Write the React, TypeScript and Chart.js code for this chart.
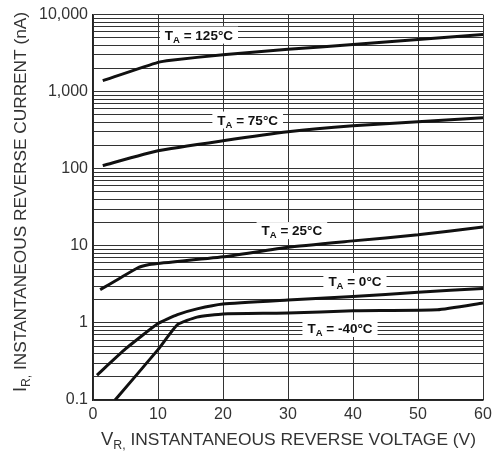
import { useEffect, useRef } from "react";
import { Chart, registerables } from "chart.js";
Chart.register(...registerables);

// Axis ticks
const voltageTicks = [0, 10, 20, 30, 40, 50, 60];
const currentMajorTicks = [0.1, 1, 10, 100, 1000, 10000];
const currentTickLabels = ["0.1", "1", "10", "100", "1,000", "10,000"];
const gridMultipliers = [1, 2, 3, 4, 5, 6, 7, 8, 9];

// Series (V_R in volts, I_R in nA)
const v125 = [1.5, 10, 12, 20, 30, 40, 50, 60];
const i125 = [1390, 2400, 2560, 3020, 3540, 4100, 4770, 5500];

const v75 = [1.5, 10, 20, 30, 40, 50, 60];
const i75 = [110, 171, 231, 302, 361, 407, 459];

const v25 = [1.1, 4, 6.9, 8.5, 10, 20, 30, 40, 50, 60];
const i25 = [2.7, 3.75, 5.2, 5.7, 5.9, 7.2, 9.6, 11.6, 13.9, 17.6];

const v0 = [0.6, 5, 10, 13, 16, 20, 30, 40, 50, 60];
const i0 = [0.21, 0.46, 0.98, 1.28, 1.52, 1.76, 1.98, 2.2, 2.5, 2.8];

const vm40 = [3.4, 10, 13, 16, 20, 30, 40, 53, 60];
const im40 = [0.1, 0.45, 0.95, 1.19, 1.31, 1.34, 1.44, 1.48, 1.81];

// Curve labels (data coordinates)
const labelTemps = ["125°C", "75°C", "25°C", "0°C", "-40°C"];
const labelV = [16.3, 23.8, 30.6, 40.3, 38];
const labelI = [5500, 435, 16, 3.5, 0.86];

const FONT = "'Liberation Sans', Arial, sans-serif";

function toPoints(xs: number[], ys: number[]) {
  return xs.map((x, i) => ({ x, y: ys[i] }));
}

type Part = { text: string; size: number; dy: number };

function drawParts(
  ctx: CanvasRenderingContext2D,
  parts: Part[],
  weight: string,
  color: string,
  align: "left" | "center",
  targetWidth?: number
) {
  let total = 0;
  const widths = parts.map((p) => {
    ctx.font = `${weight} ${p.size}px ${FONT}`;
    const w = ctx.measureText(p.text).width;
    total += w;
    return w;
  });
  const sx = targetWidth ? targetWidth / total : 1;
  ctx.save();
  ctx.scale(sx, 1);
  let x = align === "center" ? -total / 2 : 0;
  ctx.fillStyle = color;
  ctx.textBaseline = "alphabetic";
  ctx.textAlign = "left";
  parts.forEach((p, i) => {
    ctx.font = `${weight} ${p.size}px ${FONT}`;
    ctx.fillText(p.text, x, p.dy);
    x += widths[i];
  });
  ctx.restore();
  return total * sx;
}

const decorPlugin = {
  id: "decor",
  afterDatasetsDraw(chart: any) {
    const ctx: CanvasRenderingContext2D = chart.ctx;
    const xs = chart.scales.x;
    const ys = chart.scales.y;
    labelTemps.forEach((t, i) => {
      const px = xs.getPixelForValue(labelV[i]);
      const py = ys.getPixelForValue(labelI[i]);
      const parts: Part[] = [
        { text: "T", size: 13.5, dy: 0 },
        { text: "A", size: 9.5, dy: 3 },
        { text: " = " + t, size: 13.5, dy: 0 },
      ];
      ctx.save();
      let total = 0;
      parts.forEach((p) => {
        ctx.font = `bold ${p.size}px ${FONT}`;
        total += ctx.measureText(p.text).width;
      });
      ctx.fillStyle = "#ffffff";
      ctx.fillRect(px - total / 2 - 5, py - 8, total + 10, 17);
      ctx.translate(px, py + 5);
      drawParts(ctx, parts, "bold", "#111", "center");
      ctx.restore();
    });
  },
  afterDraw(chart: any) {
    const ctx: CanvasRenderingContext2D = chart.ctx;
    // X title
    ctx.save();
    ctx.translate(101, 445);
    drawParts(
      ctx,
      [
        { text: "V", size: 18, dy: 0 },
        { text: "R,", size: 12, dy: 4 },
        { text: " INSTANTANEOUS REVERSE VOLTAGE (V)", size: 17, dy: 0 },
      ],
      "normal",
      "#333",
      "left",
      375
    );
    ctx.restore();
    // Y title
    ctx.save();
    ctx.translate(26, 392);
    ctx.rotate(-Math.PI / 2);
    drawParts(
      ctx,
      [
        { text: "I", size: 18, dy: 0 },
        { text: "R,", size: 12, dy: 4 },
        { text: " INSTANTANEOUS REVERSE CURRENT (nA)", size: 17, dy: 0 },
      ],
      "normal",
      "#333",
      "left",
      380
    );
    ctx.restore();
  },
};

export default function App() {
  const ref = useRef<HTMLCanvasElement | null>(null);
  useEffect(() => {
    document.body.style.margin = "0";
    if (!ref.current) return;
    const lineStyle = {
      borderColor: "#111",
      borderWidth: 3,
      pointRadius: 0,
      fill: false,
      tension: 0.15,
      borderJoinStyle: "round" as const,
    };
    const chart = new Chart(ref.current, {
      type: "line",
      data: {
        datasets: [
          { label: "125°C", data: toPoints(v125, i125), ...lineStyle },
          { label: "75°C", data: toPoints(v75, i75), ...lineStyle },
          { label: "25°C", data: toPoints(v25, i25), ...lineStyle },
          { label: "0°C", data: toPoints(v0, i0), ...lineStyle },
          { label: "-40°C", data: toPoints(vm40, im40), ...lineStyle },
        ],
      },
      options: {
        responsive: false,
        animation: false,
        layout: { padding: { left: 0, top: 13, right: 16, bottom: 0 } },
        plugins: { legend: { display: false }, tooltip: { enabled: false } },
        scales: {
          x: {
            type: "linear",
            min: 0,
            max: 60,
            afterBuildTicks: (s: any) => {
              s.ticks = voltageTicks.map((v) => ({ value: v }));
            },
            afterFit: (s: any) => {
              s.height = 53;
            },
            ticks: {
              autoSkip: false,
              maxRotation: 0,
              padding: 5,
              color: "#333",
              font: { family: FONT, size: 16 },
              callback: (v: any) => String(v),
            },
            grid: { color: "#333", lineWidth: 1, drawTicks: false },
            border: { color: "#222", width: 1.5 },
          },
          y: {
            type: "logarithmic",
            min: 0.1,
            max: 10000,
            afterBuildTicks: (s: any) => {
              const t: { value: number }[] = [];
              currentMajorTicks.forEach((d, di) => {
                if (di === currentMajorTicks.length - 1) {
                  t.push({ value: d });
                  return;
                }
                gridMultipliers.forEach((m) => t.push({ value: +(d * m).toPrecision(6) }));
              });
              s.ticks = t;
            },
            afterFit: (s: any) => {
              s.width = 93;
            },
            ticks: {
              autoSkip: false,
              padding: 5,
              color: "#333",
              font: { family: FONT, size: 16 },
              callback: (v: any) => {
                const idx = currentMajorTicks.findIndex((m) => Math.abs(m - v) / m < 1e-6);
                return idx >= 0 ? currentTickLabels[idx] : "";
              },
            },
            grid: { color: "#333", lineWidth: 1, drawTicks: false },
            border: { color: "#222", width: 1.5 },
          },
        },
      },
      plugins: [decorPlugin],
    });
    return () => chart.destroy();
  }, []);
  return <canvas ref={ref} width={499} height={453} style={{ display: "block" }} />;
}
